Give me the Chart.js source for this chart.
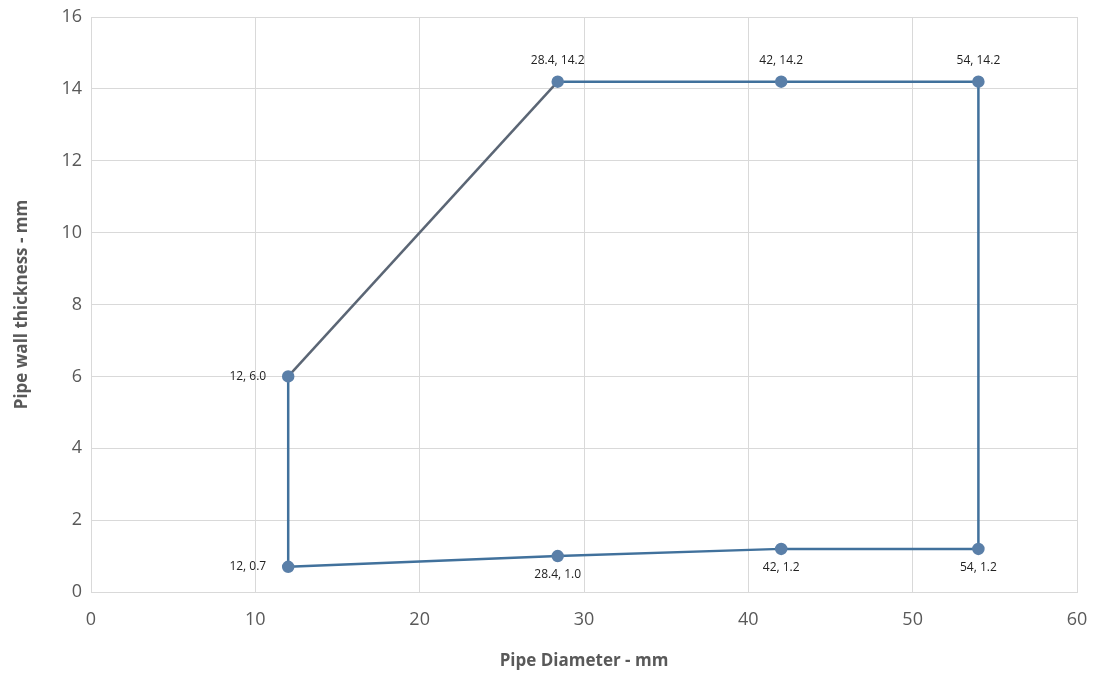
<!DOCTYPE html>
<html>
<head>
<meta charset="utf-8">
<script src="https://cdn.jsdelivr.net/npm/chart.js@4"></script>
<style>
  body { margin: 0; background: #fff; }
  #wrap { width: 1099px; height: 680px; }
</style>
</head>
<body>
<div id="wrap"><canvas id="chart"></canvas></div>
<script>
// envelope points, in drawing order
const diameters = [12, 28.4, 42, 54, 54, 42, 28.4, 12, 12];
const thickness = [0.7, 1.0, 1.2, 1.2, 14.2, 14.2, 14.2, 6.0, 0.7];
const pointLabels = ["12, 0.7", "28.4, 1.0", "42, 1.2", "54, 1.2", "54, 14.2", "42, 14.2", "28.4, 14.2", "12, 6.0", ""];
const labelSide = ["left", "below", "below", "below", "above", "above", "above", "left", ""];

const pts = diameters.map((d, i) => ({x: d, y: thickness[i]}));

const labelPlugin = {
    id: "pointLabels",
    afterDatasetsDraw(chart) {
        const ctx = chart.ctx;
        const meta = chart.getDatasetMeta(0);
        ctx.save();
        ctx.font = "12px 'Open Sans', sans-serif";
        ctx.fillStyle = "#222";
        meta.data.forEach((el, i) => {
            const txt = pointLabels[i];
            if (!txt) return;
            const side = labelSide[i];
            if (side === "left") {
                ctx.textAlign = "right";
                ctx.textBaseline = "middle";
                ctx.fillText(txt, el.x - 22, el.y);
            } else if (side === "above") {
                ctx.textAlign = "center";
                ctx.textBaseline = "bottom";
                ctx.fillText(txt, el.x, el.y - 15);
            } else {
                ctx.textAlign = "center";
                ctx.textBaseline = "top";
                ctx.fillText(txt, el.x, el.y + 13);
            }
        });
        ctx.restore();
    }
};

new Chart(document.getElementById("chart"), {
    type: "scatter",
    data: {
        datasets: [{
            data: pts,
            showLine: true,
            borderColor: "#41719c",
            borderWidth: 2.5,
            backgroundColor: "#5a7fa8",
            pointBorderColor: "#5a7fa8",
            pointRadius: (c) => c.dataIndex === pts.length - 1 ? 0 : 5,
            pointHoverRadius: 5,
            segment: {
                borderColor: (c) => c.p0DataIndex === 6 ? "#5b6675" : undefined
            }
        }]
    },
    options: {
        responsive: true,
        maintainAspectRatio: false,
        animation: false,
        layout: { padding: { left: 8, right: 22, top: 17, bottom: 5 } },
        plugins: {
            legend: { display: false },
            tooltip: { enabled: false }
        },
        scales: {
            x: {
                type: "linear",
                min: 0,
                max: 60,
                ticks: { stepSize: 10, color: "#595959", padding: 17, font: { family: "'Open Sans', sans-serif", size: 18 } },
                grid: { color: "#d9d9d9", drawTicks: false },
                border: { color: "#d9d9d9" },
                title: {
                    display: true,
                    text: "Pipe Diameter - mm",
                    color: "#595959",
                    font: { family: "'Open Sans', sans-serif", size: 17, weight: "bold" },
                    padding: { top: 4 }
                },
                afterFit: (s) => { s.height = 83; s.paddingLeft = 0; s.paddingRight = 0; }
            },
            y: {
                min: 0,
                max: 16,
                ticks: { stepSize: 2, color: "#595959", padding: 9, font: { family: "'Open Sans', sans-serif", size: 18 } },
                grid: { color: "#d9d9d9", drawTicks: false },
                border: { color: "#d9d9d9" },
                title: {
                    display: true,
                    text: "Pipe wall thickness - mm",
                    color: "#595959",
                    font: { family: "'Open Sans', sans-serif", size: 17, weight: "bold" }
                },
                afterFit: (s) => { s.width = 83; s.paddingTop = 0; s.paddingBottom = 0; }
            }
        }
    },
    plugins: [labelPlugin]
});
</script>
</body>
</html>
